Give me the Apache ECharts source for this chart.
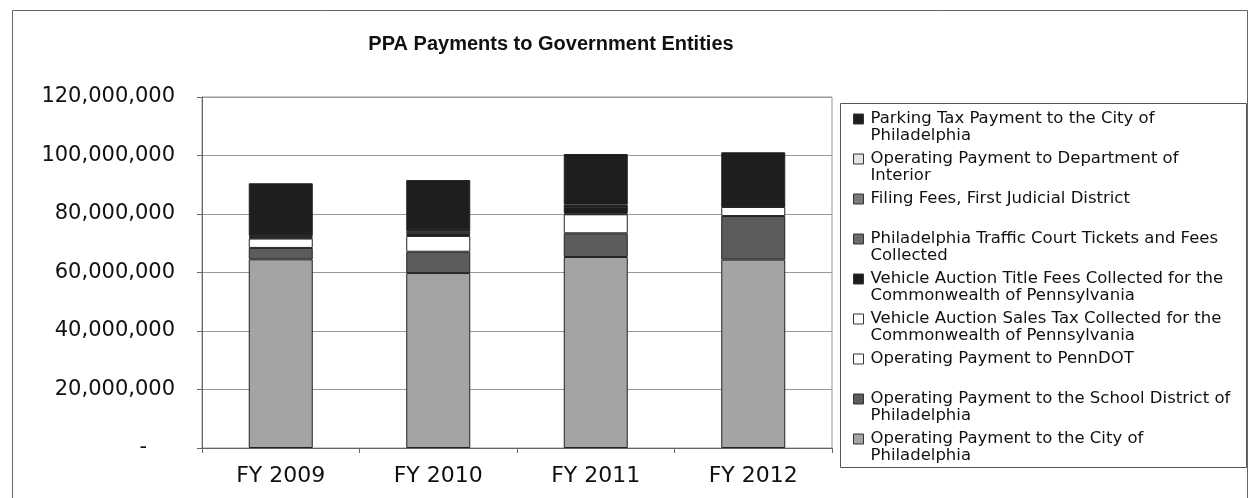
<!DOCTYPE html>
<html>
<head>
<meta charset="utf-8">
<script src="https://cdn.jsdelivr.net/npm/echarts@6/dist/echarts.min.js"></script>
<style>
html,body{margin:0;padding:0;background:#fff;}
#chart{width:1249px;height:498px;}
</style>
</head>
<body>
<div id="chart"></div>
<script>
// ---- Data (values in dollars) ----
const categories = ['FY 2009', 'FY 2010', 'FY 2011', 'FY 2012'];
const yTicks = [0, 20000000, 40000000, 60000000, 80000000, 100000000, 120000000];

// stack order bottom -> top
const cityOfPhiladelphia   = [64500000, 59800000, 65300000, 64400000];
const schoolDistrict       = [3900000, 7300000, 8100000, 14900000];
const pennDOT              = [3200000, 5400000, 6500000, 3100000];
const auctionSalesTax      = [300000, 300000, 300000, 300000];
const auctionTitleFees     = [300000, 300000, 2300000, 200000];
const trafficCourt         = [400000, 800000, 100000, 100000];
const filingFees           = [300000, 600000, 100000, 100000];
const deptInterior         = [100000, 100000, 500000, 100000];
const parkingTax           = [17500000, 17000000, 17300000, 17900000];

const seriesNames = [
  'Operating Payment to the City of Philadelphia',
  'Operating Payment to the School District of Philadelphia',
  'Operating Payment to PennDOT',
  'Vehicle Auction Sales Tax Collected for the Commonwealth of Pennsylvania',
  'Vehicle Auction Title Fees Collected for the Commonwealth of Pennsylvania',
  'Philadelphia Traffic Court Tickets and Fees Collected',
  'Filing Fees, First Judicial District',
  'Operating Payment to Department of Interior',
  'Parking Tax Payment to the City of Philadelphia'
];
const seriesData = [cityOfPhiladelphia, schoolDistrict, pennDOT, auctionSalesTax,
  auctionTitleFees, trafficCourt, filingFees, deptInterior, parkingTax];

// legend labels as wrapped in the original
const legendLabels = {
  'Parking Tax Payment to the City of Philadelphia': 'Parking Tax Payment to the City of\nPhiladelphia',
  'Operating Payment to Department of Interior': 'Operating Payment to Department of\nInterior',
  'Filing Fees, First Judicial District': 'Filing Fees, First Judicial District\n ',
  'Philadelphia Traffic Court Tickets and Fees Collected': 'Philadelphia Traffic Court Tickets and Fees\nCollected',
  'Vehicle Auction Title Fees Collected for the Commonwealth of Pennsylvania': 'Vehicle Auction Title Fees Collected for the\nCommonwealth of Pennsylvania',
  'Vehicle Auction Sales Tax Collected for the Commonwealth of Pennsylvania': 'Vehicle Auction Sales Tax Collected for the\nCommonwealth of Pennsylvania',
  'Operating Payment to PennDOT': 'Operating Payment to PennDOT\n ',
  'Operating Payment to the School District of Philadelphia': 'Operating Payment to the School District of\nPhiladelphia',
  'Operating Payment to the City of Philadelphia': 'Operating Payment to the City of\nPhiladelphia'
};

const colors = ['#a4a4a4', '#5c5c5c', '#ffffff', '#ffffff', '#1c1c1c', '#6a6a6a', '#7a7a7a', '#e4e4e4', '#1e1e1e'];

const FONT = '"Liberation Sans", Arial, sans-serif';
const WIDE = '"DejaVu Sans", sans-serif';

function fmt(v) {
  if (v === 0) return '{z|-}';
  return v.toString().replace(/\B(?=(\d{3})+(?!\d))/g, ',');
}

const chart = echarts.init(document.getElementById('chart'), null, {renderer: 'canvas'});

const series = seriesNames.map((name, i) => ({
  name: name,
  type: 'bar',
  stack: 'total',
  barWidth: 64,
  data: seriesData[i],
  itemStyle: {color: colors[i], borderColor: '#222', borderWidth: 1},
  emphasis: {disabled: true}
}));

const iconPath = 'path://M0,0L10,0L10,10L0,10Z M0,26';

chart.setOption({
  animation: false,
  backgroundColor: '#fff',
  title: {
    text: 'PPA Payments to Government Entities',
    left: 546, top: 29, textAlign: 'center',
    textStyle: {fontFamily: FONT, fontSize: 20, fontWeight: 'bold', color: '#111'}
  },
  graphic: [
    {type: 'rect', shape: {x: 12.5, y: 10.5, width: 1235, height: 500}, style: {fill: 'none', stroke: '#666', lineWidth: 1}, silent: true},
    {type: 'rect', shape: {x: 840.5, y: 103.5, width: 406, height: 364}, style: {fill: 'none', stroke: '#555', lineWidth: 1}, silent: true}
  ],
  legend: {
    orient: 'vertical',
    left: 853, top: 110,
    padding: 0,
    itemWidth: 10, itemHeight: 26,
    itemGap: 6,
    icon: iconPath,
    data: seriesNames.slice().reverse(),
    formatter: n => legendLabels[n],
    selectedMode: false,
    itemStyle: {borderColor: '#333', borderWidth: 1},
    textStyle: {fontFamily: WIDE, fontSize: 16.5, lineHeight: 17, color: '#111', padding: [0,0,0,2]}
  },
  grid: {left: 202, right: 417, top: 97, bottom: 50, show: true, borderColor: '#999', borderWidth: 1},
  xAxis: {
    type: 'category',
    data: categories,
    axisLine: {lineStyle: {color: '#666'}},
    axisTick: {show: true, length: 5, lineStyle: {color: '#666'}},
    axisLabel: {fontFamily: WIDE, fontSize: 22, color: '#111', margin: 17}
  },
  yAxis: {
    type: 'value',
    min: yTicks[0], max: yTicks[yTicks.length - 1], interval: yTicks[1] - yTicks[0],
    axisLine: {show: true, lineStyle: {color: '#666'}},
    axisTick: {show: true, length: 5, lineStyle: {color: '#666'}},
    splitLine: {lineStyle: {color: '#999', width: 1}},
    axisLabel: {
      fontFamily: WIDE, fontSize: 21, color: '#111', margin: 27, formatter: fmt,
      rich: {z: {fontFamily: WIDE, fontSize: 21, color: '#111', padding: [0, 28, 0, 0]}}
    }
  },
  series: series
});
</script>
</body>
</html>
